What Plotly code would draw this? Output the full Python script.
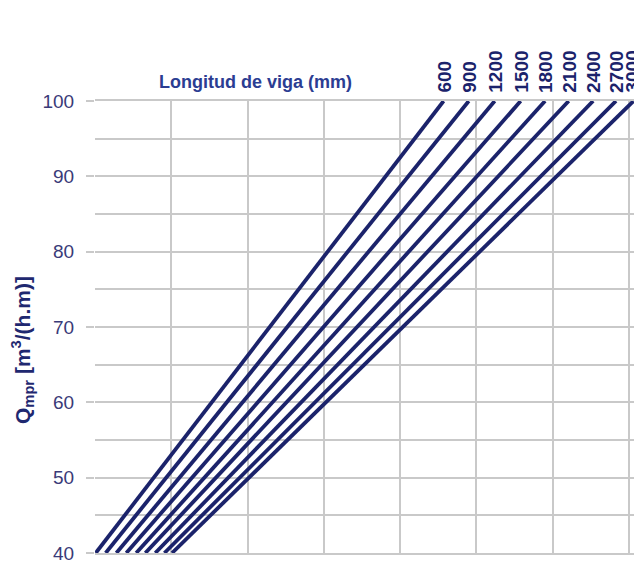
import plotly.graph_objects as go

# Beam lengths (mm)
lengths = ["600", "900", "1200", "1500", "1800", "2100", "2400", "2700", "3000"]
# x position (axis units, 1 unit per vertical gridline) where each line has Q = 40 and Q = 100
x_at_40 = [0.01, 0.14, 0.28, 0.41, 0.54, 0.66, 0.79, 0.91, 1.01]
x_at_100 = [4.57, 4.90, 5.24, 5.58, 5.90, 6.21, 6.53, 6.83, 7.06]
q_values = [40, 100]
y_ticks = [40, 50, 60, 70, 80, 90, 100]

LINE = "#1b236b"
GRID = "#c9c9c9"
FONT = "Liberation Sans, Arial, sans-serif"

OFF = 8  # default page body margin
W, H = 642 - OFF, 563 - OFF
ML, MR, MT, MB = 95 - OFF, 8, 101 - OFF, 10
PW, PH = W - ML - MR, H - MT - MB


def px_x(px):
    return (px - OFF - ML) / PW


def px_y(py):
    return (H - MB - (py - OFF)) / PH


fig = go.Figure()
for name, x0, x1 in zip(lengths, x_at_40, x_at_100):
    fig.add_trace(go.Scatter(
        x=[x0, x1], y=q_values, mode="lines", name=name,
        line=dict(color=LINE, width=3.8), showlegend=False, hoverinfo="skip",
    ))
    fig.add_annotation(
        x=x1, y=100, xref="x", yref="y", text=f"<b>{name}</b>",
        textangle=-90, showarrow=False, xanchor="center", yanchor="bottom",
        yshift=6, xshift=-2 if name == "3000" else 0,
        font=dict(family=FONT, size=19, color=LINE),
    )

fig.add_annotation(
    x=px_x(255), y=px_y(82), xref="paper", yref="paper",
    text="<b>Longitud de viga (mm)</b>", showarrow=False,
    xanchor="center", yanchor="middle",
    font=dict(family=FONT, size=18, color="#2b3d92"),
)
fig.add_annotation(
    x=px_x(22), y=px_y(350), xref="paper", yref="paper",
    text="<b>Q<sub>mpr</sub> [m<sup>3</sup>/(h.m)]</b>", showarrow=False,
    textangle=-90, xanchor="center", yanchor="middle",
    font=dict(family=FONT, size=21, color="#1f2870"),
)

fig.update_layout(
    width=W, height=H,
    margin=dict(l=ML, r=MR, t=MT, b=MB, autoexpand=False),
    paper_bgcolor="white", plot_bgcolor="white",
    font=dict(family=FONT),
)

fig.update_xaxes(
    range=[0, 7.066], dtick=1, tick0=0, showticklabels=False, ticks="",
    showgrid=True, gridcolor=GRID, gridwidth=1.5, zeroline=False,
    showline=True, linecolor=GRID, linewidth=1.5, mirror=True, automargin=False,
)
fig.update_yaxes(
    range=[40, 100], tickvals=y_ticks, ticks="outside", ticklen=8,
    tickcolor=GRID, tickwidth=1.5, ticklabelstandoff=8,
    ticklabeloverflow="allow",
    tickfont=dict(family=FONT, size=19, color="#3a3a78"),
    showgrid=True, gridcolor=GRID, gridwidth=1.5, zeroline=False,
    minor=dict(dtick=5, tick0=40, showgrid=True, gridcolor=GRID, gridwidth=1.5, ticks=""),
    showline=False, automargin=False,
)

fig.write_html("out.html")
